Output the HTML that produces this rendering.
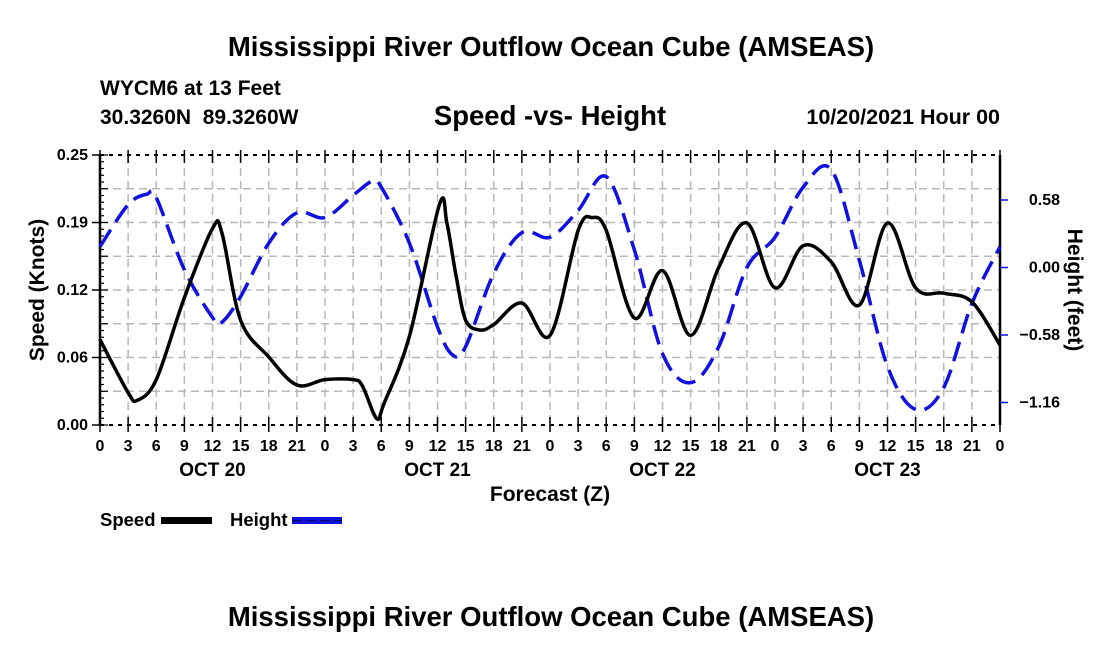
<!DOCTYPE html>
<html><head><meta charset="utf-8"><style>
body{margin:0;background:#fff;}
svg text{font-family:"Liberation Sans",Arial,sans-serif;font-weight:bold;fill:#000;}
</style></head><body>
<svg id="chart" width="1100" height="650" xmlns="http://www.w3.org/2000/svg">
<text x="551" y="56" font-size="27.5" text-anchor="middle">Mississippi River Outflow Ocean Cube (AMSEAS)</text>
<text x="100" y="95" font-size="21">WYCM6 at 13 Feet</text>
<text x="100" y="124" font-size="21" xml:space="preserve">30.3260N  89.3260W</text>
<text x="550" y="125" font-size="27.5" text-anchor="middle">Speed -vs- Height</text>
<text x="1000" y="124" font-size="21.5" text-anchor="end">10/20/2021 Hour 00</text>
<g id="grid"></g>
<g id="axes"></g>
<g id="series"></g>
<text x="550" y="501" font-size="21" text-anchor="middle">Forecast (Z)</text>
<text transform="translate(44,290) rotate(-90)" font-size="21" text-anchor="middle">Speed (Knots)</text>
<text transform="translate(1068,290) rotate(90)" font-size="21" text-anchor="middle">Height (feet)</text>
<g>
<text x="100" y="526" font-size="18.5">Speed</text>
<rect x="161" y="517" width="51" height="7" fill="#000"/>
<text x="230" y="526" font-size="18.5">Height</text>
<rect x="292" y="517" width="50" height="7" fill="#1010e0"/>
<line x1="292" y1="520.5" x2="342" y2="520.5" stroke="#000060" stroke-width="1" stroke-dasharray="10 4"/>
</g>
<text x="551" y="626" font-size="27.5" text-anchor="middle">Mississippi River Outflow Ocean Cube (AMSEAS)</text>
</svg>
<script>
const speedHours=[0,3,4,6,9,12,13,15,18,21,24,27,28,29.5,30.3,33,36.2,37,38,39,40.5,42,45,48,51,52.5,54,57,60,63,66,69,72,75,78,81,84,87,90,93,96];
const speedValues=[0.079,0.030,0.023,0.042,0.118,0.182,0.178,0.097,0.063,0.037,0.042,0.042,0.036,0.006,0.020,0.082,0.204,0.187,0.137,0.097,0.088,0.093,0.113,0.083,0.180,0.192,0.180,0.099,0.143,0.083,0.146,0.187,0.127,0.166,0.151,0.111,0.187,0.127,0.122,0.114,0.074];
const heightHours=[0,3,5,6,9,12,13,15,18,21,24,27,29,30,33,36,37.6,39,42,45,48,51,54,57,60,63,66,69,72,75,78,81,84,87,90,93,96];
const heightValues=[0.18,0.54,0.63,0.60,-0.02,-0.43,-0.47,-0.25,0.21,0.47,0.43,0.62,0.74,0.69,0.21,-0.51,-0.75,-0.68,-0.05,0.30,0.26,0.49,0.78,0.15,-0.74,-0.99,-0.68,0.00,0.26,0.69,0.84,0.06,-0.85,-1.22,-1.03,-0.31,0.18];
const xTickLabels=["0","3","6","9","12","15","18","21"];
const dayLabels=["OCT 20","OCT 21","OCT 22","OCT 23"];
const leftTicks=[0,0.0625,0.125,0.1875,0.25];
const leftTickLabels=["0.00","0.06","0.12","0.19","0.25"];
const rightTicks=[-1.16,-0.58,0,0.58];
const rightTickLabels=["\u22121.16","\u22120.58","0.00","0.58"];

const X0=100,X1=1000,Y0=425,Y1=155;
const xs=h=>X0+(h/96)*(X1-X0);
const ys=v=>Y0-(v/0.25)*(Y0-Y1);
const yh=v=>267.5-(v/0.58)*67.5;
const NS='http://www.w3.org/2000/svg';
function mk(tag,attrs,parent){const e=document.createElementNS(NS,tag);for(const k in attrs)e.setAttribute(k,attrs[k]);parent.appendChild(e);return e;}
const grid=document.getElementById('grid'),axes=document.getElementById('axes'),series=document.getElementById('series');
for(let h=3;h<96;h+=3){const l=mk('line',{x1:xs(h),x2:xs(h),y1:Y1,y2:Y0,stroke:'#b8b8b8','stroke-width':1.5,'stroke-dasharray':'8 5'},grid);

}
for(let i=1;i<8;i++){const v=i*0.03125;const l=mk('line',{x1:X0,x2:X1,y1:ys(v),y2:ys(v),stroke:'#b8b8b8','stroke-width':1.5,'stroke-dasharray':'8 5'},grid);

}
[[X0,Y0,X1,Y0],[X0,Y1,X1,Y1]].forEach(([a,b,c,d])=>{const l=mk('line',{x1:a,y1:b,x2:c,y2:d,stroke:'#000','stroke-width':2,'stroke-dasharray':'4 5'},axes);

});
[[X0],[X1]].forEach(([a])=>{const l=mk('line',{x1:a,y1:Y1,x2:a,y2:Y0,stroke:'#000','stroke-width':2.5},axes);

});
for(let h=0;h<=96;h+=3){
 mk('line',{x1:xs(h),x2:xs(h),y1:Y0-8,y2:Y0+7,stroke:'#000','stroke-width':1.5},axes);
 mk('line',{x1:xs(h),x2:xs(h),y1:Y1-5,y2:Y1+8,stroke:'#000','stroke-width':1.5},axes);
 const t=mk('text',{x:xs(h),y:451,'font-size':16,'text-anchor':'middle'},axes);
 t.textContent=xTickLabels[(h/3)%8];
 
 
}
dayLabels.forEach((d,i)=>{const t=mk('text',{x:xs(12+24*i),y:476,'font-size':19,'text-anchor':'middle'},axes);t.textContent=d;

});
for(let i=0;i<=40;i++){const v=i*0.00625;mk('line',{x1:X0,x2:X0+(i%5?4:8),y1:ys(v),y2:ys(v),stroke:'#000','stroke-width':1.2},axes);}
leftTicks.forEach((v,i)=>{mk('line',{x1:X0-8,x2:X0,y1:ys(v),y2:ys(v),stroke:'#000','stroke-width':1.5},axes);
const t=mk('text',{x:X0-12,y:ys(v)+5,'font-size':16,'text-anchor':'end'},axes);t.textContent=leftTickLabels[i];

});
rightTicks.forEach((v,i)=>{mk('line',{x1:X1,x2:X1+8,y1:yh(v),y2:yh(v),stroke:'#1010e0','stroke-width':1.5},axes);
const t=mk('text',{x:1060,y:yh(v)+5,'font-size':16,'text-anchor':'end'},axes);t.textContent=rightTickLabels[i];

});
function smooth(pts){let d='M'+pts[0][0]+','+pts[0][1];
for(let i=0;i<pts.length-1;i++){const p0=pts[Math.max(0,i-1)],p1=pts[i],p2=pts[i+1],p3=pts[Math.min(pts.length-1,i+2)];
const c1=[p1[0]+(p2[0]-p0[0])/6,p1[1]+(p2[1]-p0[1])/6],c2=[p2[0]-(p3[0]-p1[0])/6,p2[1]-(p3[1]-p1[1])/6];
d+=' C'+c1[0].toFixed(1)+','+c1[1].toFixed(1)+' '+c2[0].toFixed(1)+','+c2[1].toFixed(1)+' '+p2[0].toFixed(1)+','+p2[1].toFixed(1);}
return d;}
const hp=mk('path',{d:smooth(heightHours.map((h,i)=>[xs(h),yh(heightValues[i])])),fill:'none',stroke:'#1010e0','stroke-width':3.5,'stroke-dasharray':'20 9'},series);


const sp=mk('path',{d:smooth(speedHours.map((h,i)=>[xs(h),ys(speedValues[i])])),fill:'none',stroke:'#000','stroke-width':3.5,'stroke-linejoin':'round'},series);


</script>
</body></html>
